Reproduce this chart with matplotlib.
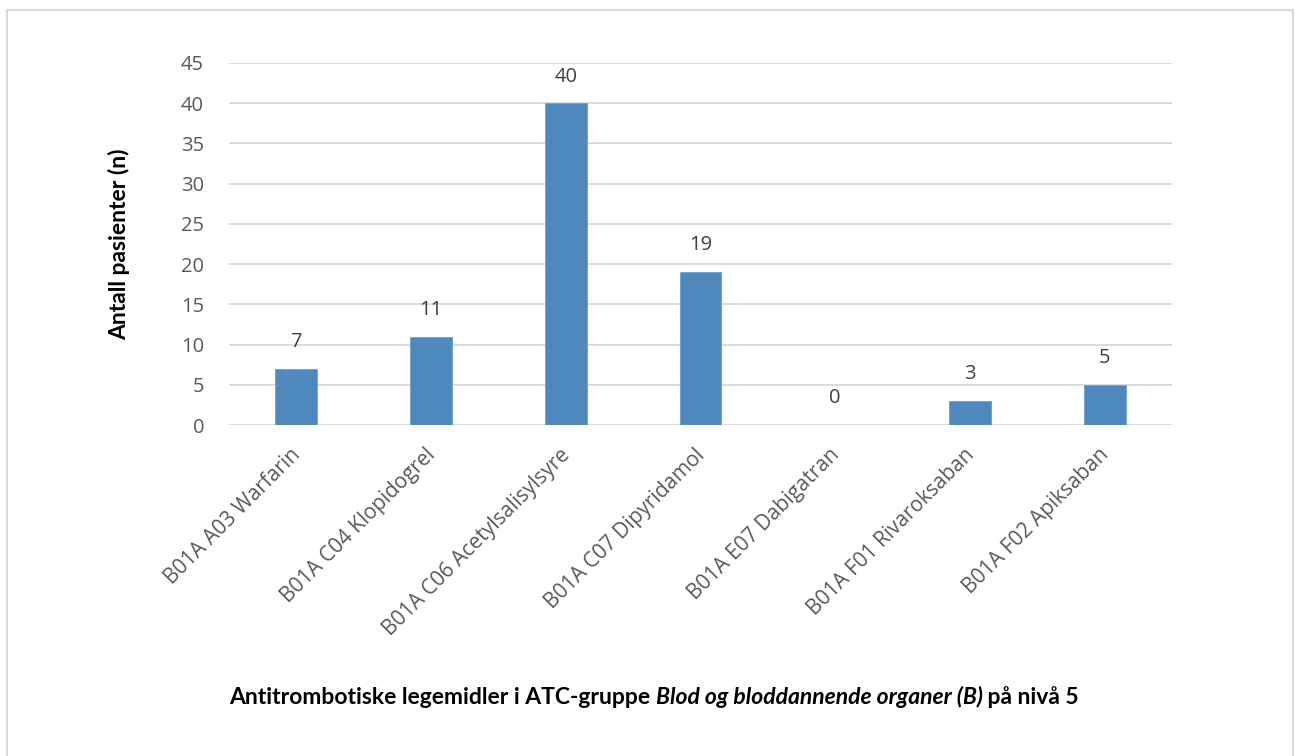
import matplotlib
matplotlib.use("Agg")
import matplotlib.pyplot as plt
from matplotlib.patches import Rectangle
from matplotlib.transforms import ScaledTranslation

categories = [
    "B01A A03 Warfarin",
    "B01A C04 Klopidogrel",
    "B01A C06 Acetylsalisylsyre",
    "B01A C07 Dipyridamol",
    "B01A E07 Dabigatran",
    "B01A F01 Rivaroksaban",
    "B01A F02 Apiksaban",
]
patients = [7, 11, 40, 19, 0, 3, 5]
y_ticks = [0, 5, 10, 15, 20, 25, 30, 35, 40, 45]

W, H = 1295, 756
DPI = 100
fig = plt.figure(figsize=(W / DPI, H / DPI), dpi=DPI)
fig.patch.set_facecolor("white")

# outer chart frame
fig.add_artist(Rectangle((7 / W, -0.01), (1293 - 7) / W, 1 - 10 / H + 0.01,
                         transform=fig.transFigure, fill=False,
                         edgecolor="#d9d9d9", linewidth=1.5))

ax_left, ax_right, ax_top, ax_bottom = 229, 1172, 63, 425
ax = fig.add_axes([ax_left / W, 1 - ax_bottom / H,
                   (ax_right - ax_left) / W, (ax_bottom - ax_top) / H])
x = list(range(len(categories)))
ax.bar(x, patients, width=0.31, color="#4f88bd", edgecolor="#6fa0cf",
       linewidth=0.6, zorder=3)

ax.set_xlim(-0.5, len(categories) - 0.5)
ax.set_ylim(0, 45)
ax.set_yticks(y_ticks)
ax.grid(axis="y", color="#d9d9d9", linewidth=1.3, zorder=0)
for s in ax.spines.values():
    s.set_visible(False)
ax.tick_params(axis="both", length=0, labelcolor="#595959")
ax.tick_params(axis="y", pad=18, labelsize=14.5)
for lab in ax.get_yticklabels():
    lab.set_fontfamily("Open Sans")

ax.set_xticks(x)
ax.set_xticklabels(categories, rotation=45, ha="right", rotation_mode="anchor",
                   family="Open Sans", fontsize=15, color="#595959")
ax.tick_params(axis="x", pad=14)
shift = ScaledTranslation(-6 / DPI, 0, fig.dpi_scale_trans)
for lab in ax.get_xticklabels():
    lab.set_transform(lab.get_transform() + shift)

for xi, v in zip(x, patients):
    ax.annotate(str(v), (xi, v), xytext=(0, 12), textcoords="offset points",
                ha="center", va="bottom", family="Open Sans", fontsize=14.5,
                color="#404040")

ax.set_ylabel("Antall pasienter (n)", family="Lato", fontweight="bold",
              fontsize=16.5, color="black")
ax.yaxis.set_label_coords((130 - ax_left) / (ax_right - ax_left), 0.5)

# x-axis title: bold text with a bold-italic middle part
parts = [
    ("Antitrombotiske legemidler i ATC-gruppe ", "normal"),
    ("Blod og bloddannende organer (B)", "italic"),
    (" på nivå 5", "normal"),
]
renderer = fig.canvas.get_renderer()
texts = []
for s, style in parts:
    t = fig.text(0, 1 - 697 / H, s, ha="left", va="center", family="Lato",
                 fontweight="bold", fontstyle=style, fontsize=16.5, color="black")
    texts.append(t)
widths = [t.get_window_extent(renderer).width for t in texts]
total = sum(widths)
left = 654 - total / 2
for t, w in zip(texts, widths):
    t.set_x(left / W)
    left += w

fig.savefig("out.png", dpi=DPI)
